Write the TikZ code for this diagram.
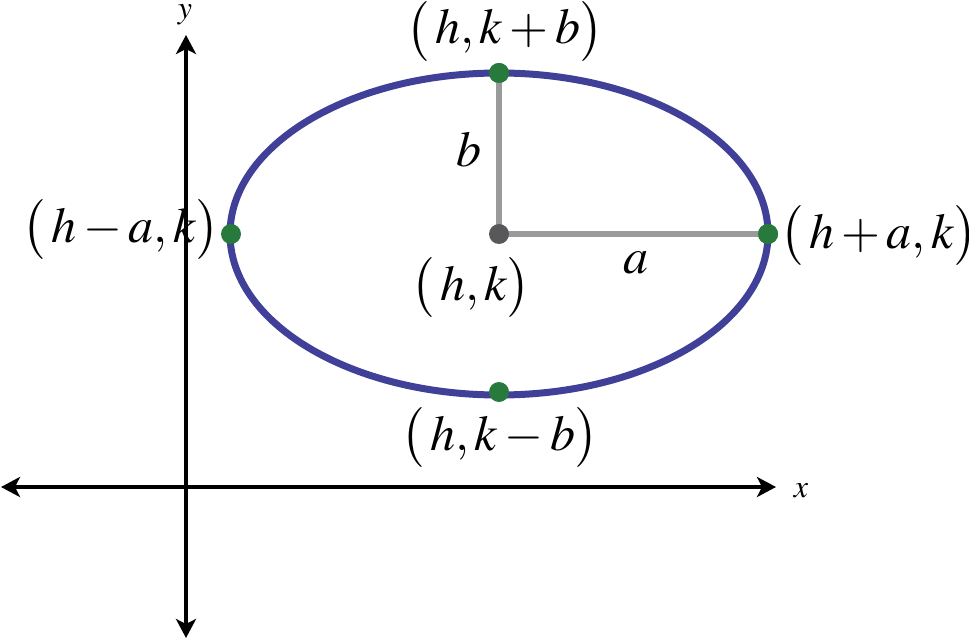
\documentclass[tikz,border=0pt]{standalone}
\usepackage{mathptmx}
\usetikzlibrary{arrows.meta}
\definecolor{ellblue}{RGB}{64,64,152}
\definecolor{ptgreen}{RGB}{40,122,60}
\definecolor{radgray}{RGB}{154,154,154}
\definecolor{ctrgray}{RGB}{88,88,90}
\begin{document}
\begin{tikzpicture}[x=1pt,y=-1pt,
  axis/.style={line width=4pt,black,{Stealth[length=19pt,width=20pt,inset=5pt]}-{Stealth[length=19pt,width=20pt,inset=5pt]}},
  gdot/.style={circle,fill=ptgreen,inner sep=0pt,minimum size=20pt},
  cdot/.style={circle,fill=ctrgray,inner sep=0pt,minimum size=20pt},
  radline/.style={line width=6pt,radgray},
  lbl/.style={anchor=base,inner sep=0pt,font=\fontsize{50}{56}\selectfont},
  axlbl/.style={anchor=base,inner sep=0pt,font=\fontsize{32}{36}\selectfont}]
\useasboundingbox (0,0) rectangle (969,639);
% axes
\coordinate (yt) at (186,35);
\coordinate (yb) at (186,638);
\coordinate (xl) at (1,487);
\coordinate (xr) at (776,487);
\draw[axis] (yb) -- (yt);
\draw[axis] (xl) -- (xr);
\node[axlbl] (ylab) at (185,19) {$y$};
\node[axlbl] (xlab) at (801,497) {$x$};
% ellipse
\coordinate (c) at (499,234);
\draw[ellblue,line width=7pt] (c) ellipse [x radius=269pt, y radius=161pt];
% points
\node[gdot] (top) at (499,73) {};
\node[gdot] (bot) at (499,392) {};
\node[gdot] (lft) at (231,234) {};
\node[gdot] (rgt) at (768,234) {};
\draw[radline] (top.center) -- (c) -- (rgt.center);
\node[gdot] at (top) {};
\node[gdot] at (rgt) {};
\node[cdot] (ctr) at (c) {};
% labels
\node[lbl] (ltop) at (505,44) {$\bigl(\,h,k+b\bigr)$};
\node[lbl] (lbot) at (500,450) {$\bigl(\,h,k-b\bigr)$};
\node[lbl] (llft) at (121,242) {$\bigl(\,h-a,k\bigr)$};
\node[lbl] (lrgt) at (879,248) {$\bigl(\,h+a,k\bigr)$};
\node[lbl] (lctr) at (471,300) {$\bigl(\,h,k\bigr)$};
\node[lbl] (la) at (636,273) {$a$};
\node[lbl] (lb) at (469,167) {$b$};
\end{tikzpicture}
\end{document}
